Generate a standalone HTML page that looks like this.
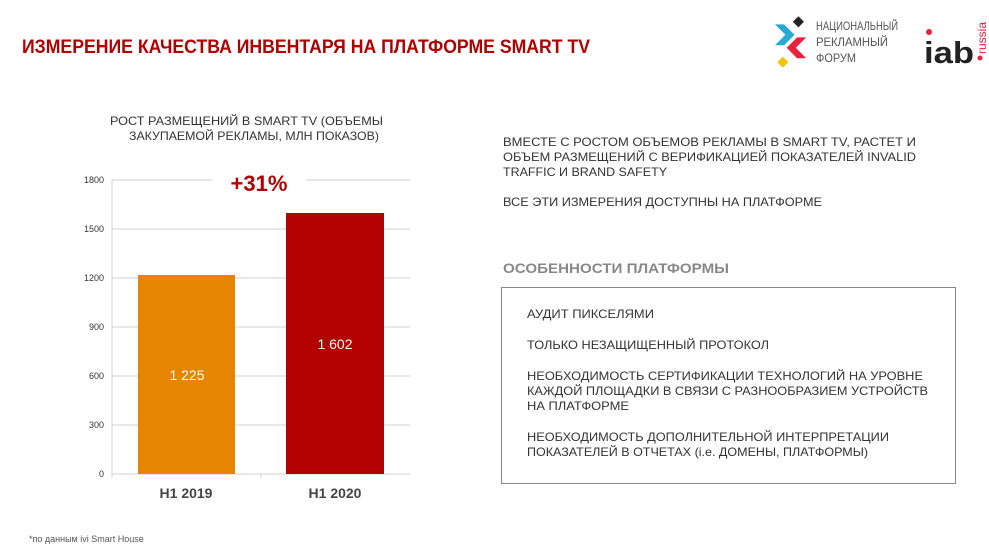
<!DOCTYPE html><html><head><meta charset="utf-8"><style>body{margin:0;background:#fff}svg{display:block}</style></head><body>
<svg width="989" height="557" xmlns="http://www.w3.org/2000/svg" font-family="Liberation Sans, DejaVu Sans, sans-serif">
<text x="22" y="53" font-size="19" font-weight="bold" fill="#b00000" textLength="568" lengthAdjust="spacingAndGlyphs">ИЗМЕРЕНИЕ КАЧЕСТВА ИНВЕНТАРЯ НА ПЛАТФОРМЕ SMART TV</text>
<g transform="translate(775,14) scale(1.3)">
<polygon points="0,8 7,8 15,16 7,24 0,24 8,16" fill="#29a9d6"/>
<polygon points="17,18 24,18 16,26 24,34 17,34 9,26" fill="#e8213f"/>
<rect x="15" y="3" width="6" height="6" transform="rotate(45 18 6)" fill="#222"/>
<rect x="3" y="34" width="6" height="6" transform="rotate(45 6 37)" fill="#f5c400"/>
</g>
<text x="816" y="30" font-size="12" fill="#555" textLength="82" lengthAdjust="spacingAndGlyphs">НАЦИОНАЛЬНЫЙ</text>
<text x="816" y="46" font-size="12" fill="#555" textLength="72" lengthAdjust="spacingAndGlyphs">РЕКЛАМНЫЙ</text>
<text x="816" y="62" font-size="12" fill="#555" textLength="40" lengthAdjust="spacingAndGlyphs">ФОРУМ</text>
<text x="924" y="63" font-size="31" font-weight="bold" fill="#222" textLength="50" lengthAdjust="spacingAndGlyphs">iab</text>
<circle cx="929" cy="32" r="3" fill="#e8213f"/>
<circle cx="980" cy="58" r="2.5" fill="#e8213f"/>
<text transform="translate(986,54) rotate(-90)" font-size="12" fill="#e8213f">russia</text>
<text x="110" y="125" font-size="12" fill="#333" textLength="273" lengthAdjust="spacingAndGlyphs">РОСТ РАЗМЕЩЕНИЙ В SMART TV (ОБЪЕМЫ</text>
<text x="129" y="140" font-size="12" fill="#333" textLength="250" lengthAdjust="spacingAndGlyphs">ЗАКУПАЕМОЙ РЕКЛАМЫ, МЛН ПОКАЗОВ)</text>
<g stroke="#d0d0d0" stroke-width="1">
<line x1="112" y1="180" x2="212" y2="180"/><line x1="306" y1="180" x2="410" y2="180"/>
<line x1="112" y1="229" x2="410" y2="229"/><line x1="112" y1="278" x2="410" y2="278"/>
<line x1="112" y1="327" x2="410" y2="327"/><line x1="112" y1="376" x2="410" y2="376"/>
<line x1="112" y1="425" x2="410" y2="425"/><line x1="112" y1="474" x2="410" y2="474"/>
<line x1="112" y1="180" x2="112" y2="478"/><line x1="261" y1="474" x2="261" y2="478"/>
</g>
<g font-size="9" fill="#333" text-anchor="end">
<text x="104" y="183">1800</text><text x="104" y="232">1500</text><text x="104" y="281">1200</text>
<text x="104" y="330">900</text><text x="104" y="379">600</text><text x="104" y="428">300</text><text x="104" y="477">0</text>
</g>
<rect x="138" y="275" width="97" height="199" fill="#e68500"/>
<rect x="286" y="213" width="98" height="261" fill="#b30000"/>
<text x="187" y="380" font-size="14" fill="#fff" text-anchor="middle">1 225</text>
<text x="335" y="349" font-size="14" fill="#fff" text-anchor="middle">1 602</text>
<text x="259" y="191" font-size="22" font-weight="bold" fill="#b30000" text-anchor="middle">+31%</text>
<text x="186" y="498" font-size="14" font-weight="bold" fill="#444" text-anchor="middle">H1 2019</text>
<text x="335" y="498" font-size="14" font-weight="bold" fill="#444" text-anchor="middle">H1 2020</text>
<text x="29" y="542" font-size="9" fill="#555">*по данным ivi Smart House</text>
<g font-size="12" fill="#333" lengthAdjust="spacingAndGlyphs">
<text x="503" y="146" textLength="413" lengthAdjust="spacingAndGlyphs">ВМЕСТЕ С РОСТОМ ОБЪЕМОВ РЕКЛАМЫ В SMART TV, РАСТЕТ И</text>
<text x="503" y="161" textLength="413" lengthAdjust="spacingAndGlyphs">ОБЪЕМ РАЗМЕЩЕНИЙ С ВЕРИФИКАЦИЕЙ ПОКАЗАТЕЛЕЙ INVALID</text>
<text x="503" y="176" textLength="164" lengthAdjust="spacingAndGlyphs">TRAFFIC И BRAND SAFETY</text>
<text x="503" y="206" textLength="319" lengthAdjust="spacingAndGlyphs">ВСЕ ЭТИ ИЗМЕРЕНИЯ ДОСТУПНЫ НА ПЛАТФОРМЕ</text>
</g>
<text x="503" y="273" font-size="14" font-weight="bold" fill="#888" textLength="226" lengthAdjust="spacingAndGlyphs">ОСОБЕННОСТИ ПЛАТФОРМЫ</text>
<rect x="501.5" y="287.5" width="454" height="196" fill="none" stroke="#888" stroke-width="1"/>
<g font-size="12" fill="#333">
<text x="527" y="318" textLength="127" lengthAdjust="spacingAndGlyphs">АУДИТ ПИКСЕЛЯМИ</text>
<text x="527" y="349" textLength="242" lengthAdjust="spacingAndGlyphs">ТОЛЬКО НЕЗАЩИЩЕННЫЙ ПРОТОКОЛ</text>
<text x="527" y="380" textLength="396" lengthAdjust="spacingAndGlyphs">НЕОБХОДИМОСТЬ СЕРТИФИКАЦИИ ТЕХНОЛОГИЙ НА УРОВНЕ</text>
<text x="527" y="395" textLength="401" lengthAdjust="spacingAndGlyphs">КАЖДОЙ ПЛОЩАДКИ В СВЯЗИ С РАЗНООБРАЗИЕМ УСТРОЙСТВ</text>
<text x="527" y="410" textLength="102" lengthAdjust="spacingAndGlyphs">НА ПЛАТФОРМЕ</text>
<text x="527" y="441" textLength="362" lengthAdjust="spacingAndGlyphs">НЕОБХОДИМОСТЬ ДОПОЛНИТЕЛЬНОЙ ИНТЕРПРЕТАЦИИ</text>
<text x="527" y="456" textLength="341" lengthAdjust="spacingAndGlyphs">ПОКАЗАТЕЛЕЙ В ОТЧЕТАХ (i.e. ДОМЕНЫ, ПЛАТФОРМЫ)</text>
</g>
</svg>
</body></html>
